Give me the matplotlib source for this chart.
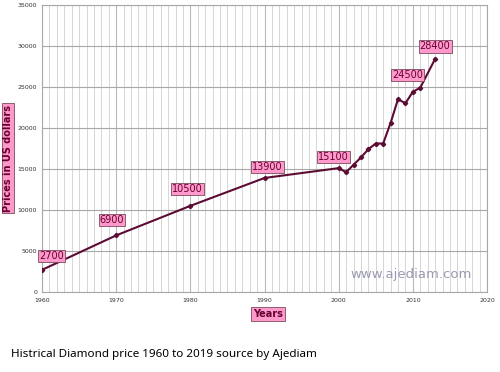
import matplotlib.pyplot as plt
from matplotlib.ticker import MultipleLocator

# data
years = [1960, 1970, 1980, 1990, 2000, 2001, 2002, 2003, 2004, 2005, 2006,
         2007, 2008, 2009, 2010, 2011, 2013]
prices = [2700, 6900, 10500, 13900, 15100, 14600, 15500, 16400, 17400, 18100,
          18100, 20600, 23500, 23000, 24400, 24900, 28400]

# labelled points: (year, price, label text, label offset in points)
label_years = [1960, 1970, 1980, 1990, 2000, 2011, 2013]
label_texts = ['2700', '6900', '10500', '13900', '15100', '24500', '28400']
label_offsets = [(7, 10), (-3, 11), (-2, 12), (2, 8), (-4, 8), (-9, 9), (0, 9)]

line_col = '#5c0b33'
pink = '#ff99cc'
text_col = '#66002e'

fig = plt.figure(figsize=(5, 3.72), dpi=100)
ax = fig.add_axes([0.084, 0.215, 0.89, 0.772])

ax.plot(years, prices, color=line_col, lw=1.5, marker='D', ms=2.2, zorder=3)

for yr, txt, off in zip(label_years, label_texts, label_offsets):
    val = prices[years.index(yr)]
    ax.annotate(txt, (yr, val), xytext=off, textcoords='offset points',
                ha='center', va='center', fontsize=7, color=text_col,
                bbox=dict(boxstyle='square,pad=0.12', fc=pink, ec='#7a4a60', lw=0.6),
                zorder=4)

ax.set_xlim(1960, 2020)
ax.set_ylim(0, 35000)
ax.xaxis.set_major_locator(MultipleLocator(10))
ax.xaxis.set_minor_locator(MultipleLocator(1))
ax.yaxis.set_major_locator(MultipleLocator(5000))
ax.grid(which='major', axis='y', color='#a8a8a8', lw=0.8)
ax.grid(which='major', axis='x', color='#b8b8b8', lw=0.8)
ax.grid(which='minor', axis='x', color='#d6d6d6', lw=0.7)
ax.set_axisbelow(True)
ax.tick_params(which='both', length=0, labelsize=4.5, colors='#333333')
ax.tick_params(axis='x', pad=4)
for s in ax.spines.values():
    s.set_color('#a8a8a8')

fig.text(0.016, 0.575, 'Prices in US dollars', rotation=90, ha='center', va='center',
         fontsize=7, fontweight='bold', color=text_col,
         bbox=dict(boxstyle='square,pad=0.15', fc=pink, ec='#7a4a60', lw=0.6))
fig.text(0.536, 0.156, 'Years', ha='center', va='center', fontsize=7,
         fontweight='bold', color=text_col,
         bbox=dict(boxstyle='square,pad=0.2', fc=pink, ec='#7a4a60', lw=0.6))

fig.text(0.822, 0.262, 'www.ajediam.com', ha='center', va='center',
         fontsize=9.5, color='#9a9ab0')

fig.text(0.022, 0.048, 'Histrical Diamond price 1960 to 2019 source by Ajediam',
         ha='left', va='center', fontsize=8.4, family='Noto Sans', color='black')

fig.savefig('out.png', dpi=100)
